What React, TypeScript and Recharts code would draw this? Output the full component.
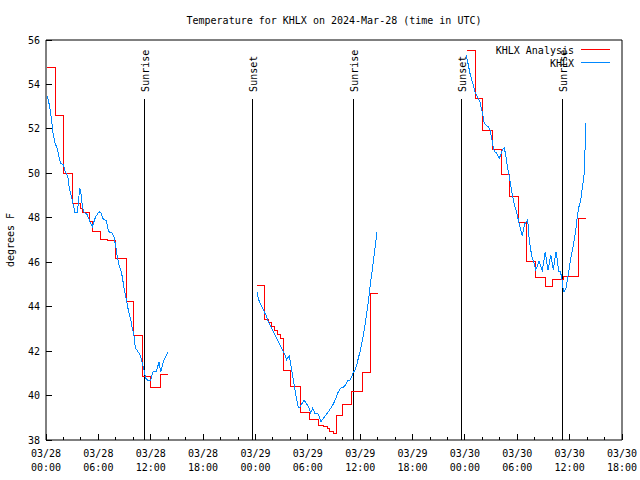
import React from "react";
import { LineChart, Line, XAxis, YAxis, ReferenceLine } from "recharts";

// hours since 03/28 00:00 UTC, temperature in deg F
const analysis28: [number, number][] = [
  [0.15, 54.78], [1.09, 52.62], [2.06, 50.0], [3.01, 48.65], [3.9, 48.42],
  [4.21, 48.25], [4.93, 47.83], [5.31, 47.4], [6.22, 47.03], [7.1, 46.98],
  [7.91, 46.18], [9.22, 44.22], [10.0, 42.72], [11.11, 40.85], [12.03, 40.35],
  [13.12, 40.93], [13.98, 40.93],
];
const analysis29: [number, number][] = [
  [24.21, 44.96], [25.09, 43.43], [25.49, 43.3], [25.84, 43.13], [26.18, 42.95],
  [26.53, 42.77], [26.87, 42.57], [27.16, 41.15], [28.07, 40.4], [29.16, 39.23],
  [30.19, 38.93], [31.17, 38.67], [31.85, 38.6], [32.2, 38.5], [32.54, 38.4],
  [32.89, 38.3], [33.23, 39.1], [33.97, 39.6], [35.01, 40.17], [36.21, 41.04],
  [37.18, 44.6], [37.93, 44.55],
];
const analysis30: [number, number][] = [
  [48.21, 55.52], [49.16, 53.38], [50.07, 51.95], [51.16, 51.08], [52.14, 49.95],
  [53.11, 48.97], [54.14, 47.77], [55.11, 46.05], [56.09, 45.3], [57.23, 44.92],
  [58.09, 45.23], [59.24, 45.35], [61.02, 47.97], [61.87, 47.97],
];

const obs28: [number, number][] = [
  [0.15, 53.48], [0.31, 53.22], [0.54, 52.7], [0.72, 52.1], [0.8, 51.8],
  [1.0, 51.42], [1.11, 51.28], [1.29, 51.12], [1.49, 50.75], [1.68, 50.45],
  [1.98, 50.4], [2.14, 50.15], [2.33, 50.0], [2.52, 49.78], [2.64, 49.4],
  [2.83, 49.1], [3.01, 48.8], [3.21, 48.42], [3.29, 48.25], [3.59, 48.25],
  [3.7, 48.65], [3.86, 49.33], [4.04, 49.03], [4.16, 48.5], [4.35, 48.27],
  [4.73, 48.13], [5.12, 47.75], [5.31, 47.6], [5.5, 47.83], [5.69, 48.05],
  [6.07, 48.27], [6.27, 48.23], [6.57, 47.93], [6.91, 47.87], [7.14, 47.45],
  [7.22, 47.37], [7.6, 47.3], [7.79, 47.15], [7.99, 46.7], [8.17, 46.25],
  [8.36, 45.88], [8.56, 45.65], [8.74, 45.35], [8.94, 44.83], [9.13, 44.45],
  [9.32, 44.07], [9.51, 43.7], [9.71, 43.4], [9.89, 43.03], [10.08, 42.72],
  [10.16, 42.35], [10.28, 42.13], [10.66, 41.9], [10.85, 41.75], [11.03, 41.45],
  [11.23, 41.15], [11.42, 40.78], [11.69, 40.67], [12.0, 40.7], [12.26, 41.07],
  [12.64, 41.07], [12.95, 41.52], [13.14, 41.07], [13.44, 41.52], [13.72, 41.75],
  [13.98, 41.97],
];
const obs29: [number, number][] = [
  [24.21, 44.64], [24.33, 44.37], [24.52, 44.15], [24.72, 44.0], [24.9, 43.88],
  [25.09, 43.7], [25.29, 43.55], [25.47, 43.33], [25.67, 43.18], [25.86, 43.03],
  [26.04, 42.88], [26.24, 42.72], [26.43, 42.57], [26.62, 42.42], [26.81, 42.27],
  [27.01, 42.13], [27.19, 41.97], [27.39, 41.82], [27.58, 41.6], [27.7, 41.7],
  [27.88, 41.78], [27.96, 41.6], [28.15, 41.15], [28.34, 40.7], [28.53, 40.25],
  [28.73, 39.8], [28.91, 39.47], [29.1, 39.47], [29.3, 39.62], [29.56, 39.77],
  [29.79, 39.68], [30.06, 39.5], [30.33, 39.23], [30.56, 39.43], [30.82, 39.2],
  [31.2, 39.17], [31.51, 38.82], [31.77, 38.97], [32.08, 39.12], [32.35, 39.27],
  [32.62, 39.43], [32.92, 39.62], [33.23, 39.88], [33.49, 40.17], [33.77, 40.33],
  [34.07, 40.37], [34.34, 40.48], [34.57, 40.67], [34.83, 40.7], [35.03, 40.85],
  [35.21, 41.03], [35.41, 41.15], [35.6, 41.37], [35.78, 41.67], [35.98, 41.97],
  [36.17, 42.35], [36.36, 42.72], [36.55, 43.18], [36.75, 43.7], [36.93, 44.22],
  [37.13, 44.9], [37.53, 46.1], [37.93, 47.36],
];
const obs30: [number, number][] = [
  [48.13, 55.33], [48.27, 55.1], [48.39, 54.88], [48.58, 54.5], [48.78, 54.2],
  [48.96, 53.98], [49.16, 53.67], [49.35, 53.52], [49.53, 53.38], [49.73, 53.22],
  [49.84, 52.98], [49.99, 52.77], [50.11, 52.47], [50.22, 52.25], [50.42, 52.17],
  [50.68, 52.1], [50.88, 51.95], [50.99, 51.72], [51.14, 51.42], [51.25, 51.13],
  [51.45, 50.97], [51.64, 50.9], [51.94, 50.68], [52.1, 50.83], [52.28, 51.05],
  [52.51, 51.15], [52.67, 50.83], [52.79, 50.53], [52.9, 50.23], [53.09, 49.85],
  [53.28, 49.4], [53.48, 48.95], [53.63, 48.65], [53.85, 48.35], [54.0, 48.13],
  [54.2, 47.75], [54.39, 47.45], [54.58, 47.18], [54.69, 47.45], [54.89, 47.75],
  [55.08, 47.83], [55.2, 47.9], [55.34, 47.15], [55.54, 46.55], [55.72, 46.18],
  [55.92, 45.95], [56.11, 45.65], [56.3, 45.8], [56.49, 46.07], [56.68, 45.8],
  [56.87, 45.65], [57.06, 46.1], [57.21, 46.47], [57.37, 46.02], [57.52, 45.65],
  [57.67, 45.95], [57.83, 46.33], [57.98, 46.02], [58.13, 45.65], [58.29, 46.1],
  [58.44, 46.47], [58.59, 46.1], [58.75, 45.58], [58.9, 45.58], [59.09, 45.35],
  [59.21, 44.9], [59.36, 44.67], [59.58, 44.83], [59.73, 45.2], [59.93, 45.65],
  [60.12, 46.18], [60.31, 46.55], [60.5, 46.93], [60.7, 47.45], [60.88, 48.05],
  [61.07, 48.5], [61.27, 48.8], [61.45, 49.33], [61.65, 49.93], [61.76, 51.05],
  [61.87, 52.26],
];

const sunEvents = [
  { hour: 11.26, name: "Sunrise" },
  { hour: 23.68, name: "Sunset" },
  { hour: 35.21, name: "Sunrise" },
  { hour: 47.63, name: "Sunset" },
  { hour: 59.21, name: "Sunrise" },
];

const xTicks = [
  0, 2, 4, 6, 8, 10, 12, 14, 16, 18, 20, 22, 24, 26, 28, 30, 32, 34,
  36, 38, 40, 42, 44, 46, 48, 50, 52, 54, 56, 58, 60, 62, 64, 66,
];
const yTicks = [38, 40, 42, 44, 46, 48, 50, 52, 54, 56];

const FONT = "'DejaVu Sans Mono', monospace";
const RED = "#ff0000";
const BLUE = "#0088ff";
const SUN_LINE_TOP = 53.35;

const toPoints = (rows: [number, number][]) => rows.map(([h, t]) => ({ h, t }));

const pad = (n: number) => (n < 10 ? "0" + n : "" + n);

function BottomTick({ x, y, payload }: any) {
  const h = payload.value;
  const major = h % 6 === 0;
  return (
    <g>
      <line x1={x} x2={x} y1={y} y2={y - (major ? 6 : 3)} stroke="#000" shapeRendering="crispEdges" />
      {major && (
        <text x={x} y={y + 17} textAnchor="middle" fontFamily={FONT} fontSize={10} fill="#000">
          <tspan x={x}>{"03/" + (28 + Math.floor(h / 24))}</tspan>
          <tspan x={x} dy={14}>{pad(h % 24) + ":00"}</tspan>
        </text>
      )}
    </g>
  );
}

function TopTick({ x, y, payload }: any) {
  const major = payload.value % 6 === 0;
  return <line x1={x} x2={x} y1={y} y2={y + (major ? 6 : 3)} stroke="#000" shapeRendering="crispEdges" />;
}

function LeftTick({ x, y, payload }: any) {
  return (
    <g>
      <line x1={x} x2={x + 6} y1={y} y2={y} stroke="#000" shapeRendering="crispEdges" />
      <text x={x - 6} y={y + 3.5} textAnchor="end" fontFamily={FONT} fontSize={10} fill="#000">
        {payload.value}
      </text>
    </g>
  );
}

function RightTick({ x, y }: any) {
  return <line x1={x} x2={x - 6} y1={y} y2={y} stroke="#000" shapeRendering="crispEdges" />;
}

function SunLabel({ viewBox, text }: any) {
  const x = viewBox.x + 4.5;
  const y = viewBox.y - 7;
  return (
    <text x={x} y={y} transform={`rotate(-90 ${x} ${y})`} fontFamily={FONT} fontSize={10} fill="#000">
      {text}
    </text>
  );
}

function YTitle({ viewBox }: any) {
  const x = 14;
  const y = viewBox.y + viewBox.height / 2;
  return (
    <text x={x} y={y} transform={`rotate(-90 ${x} ${y})`} textAnchor="middle" fontFamily={FONT} fontSize={10} fill="#000">
      degrees F
    </text>
  );
}

export default function App() {
  const redSegments = [analysis28, analysis29, analysis30];
  const blueSegments = [obs28, obs29, obs30];
  return (
    <div style={{ position: "absolute", left: 0, top: 0, width: 640, height: 480, background: "#fff" }}>
      <LineChart width={640} height={480} margin={{ top: 0, right: 0, bottom: 0, left: 0 }}>
        <XAxis
          xAxisId={0}
          dataKey="h"
          type="number"
          domain={[0, 66]}
          ticks={xTicks}
          interval={0}
          height={40}
          tickSize={0}
          tickMargin={0}
          tickLine={false}
          axisLine={{ stroke: "#000" }}
          tick={<BottomTick />}
          allowDataOverflow
        />
        <XAxis
          xAxisId="top"
          orientation="top"
          dataKey="h"
          type="number"
          domain={[0, 66]}
          ticks={xTicks}
          interval={0}
          height={40}
          tickSize={0}
          tickMargin={0}
          tickLine={false}
          axisLine={{ stroke: "#000" }}
          tick={<TopTick />}
        />
        <YAxis
          yAxisId={0}
          type="number"
          domain={[38, 56]}
          ticks={yTicks}
          interval={0}
          width={46}
          tickSize={0}
          tickMargin={0}
          tickLine={false}
          axisLine={{ stroke: "#000" }}
          tick={<LeftTick />}
          label={<YTitle />}
          allowDataOverflow
        />
        <YAxis
          yAxisId="right"
          orientation="right"
          type="number"
          domain={[38, 56]}
          ticks={yTicks}
          interval={0}
          width={18}
          tickSize={0}
          tickMargin={0}
          tickLine={false}
          axisLine={{ stroke: "#000" }}
          tick={<RightTick />}
        />
        {sunEvents.map((s, i) => (
          <ReferenceLine
            key={"sun" + i}
            segment={[
              { x: s.hour, y: 38 },
              { x: s.hour, y: SUN_LINE_TOP },
            ]}
            stroke="#000"
            strokeWidth={1}
            shapeRendering="crispEdges"
            label={<SunLabel text={s.name} />}
          />
        ))}
        {redSegments.map((seg, i) => (
          <Line
            key={"red" + i}
            data={toPoints(seg)}
            dataKey="t"
            type="stepAfter"
            stroke={RED}
            strokeWidth={1}
            dot={false}
            activeDot={false}
            isAnimationActive={false}
            shapeRendering="crispEdges"
          />
        ))}
        {blueSegments.map((seg, i) => (
          <Line
            key={"blue" + i}
            data={toPoints(seg)}
            dataKey="t"
            type="linear"
            stroke={BLUE}
            strokeWidth={1}
            dot={false}
            activeDot={false}
            isAnimationActive={false}
            shapeRendering="crispEdges"
          />
        ))}
        <text x={334} y={24} textAnchor="middle" fontFamily={FONT} fontSize={10} fill="#000">
          Temperature for KHLX on 2024-Mar-28 (time in UTC)
        </text>
        <g fontFamily={FONT} fontSize={10} fill="#000">
          <text x={574} y={53.5} textAnchor="end">KHLX Analysis</text>
          <line x1={581} x2={610} y1={49.5} y2={49.5} stroke={RED} shapeRendering="crispEdges" />
          <text x={574} y={66.5} textAnchor="end">KHLX</text>
          <line x1={581} x2={610} y1={62.5} y2={62.5} stroke={BLUE} shapeRendering="crispEdges" />
        </g>
      </LineChart>
    </div>
  );
}
